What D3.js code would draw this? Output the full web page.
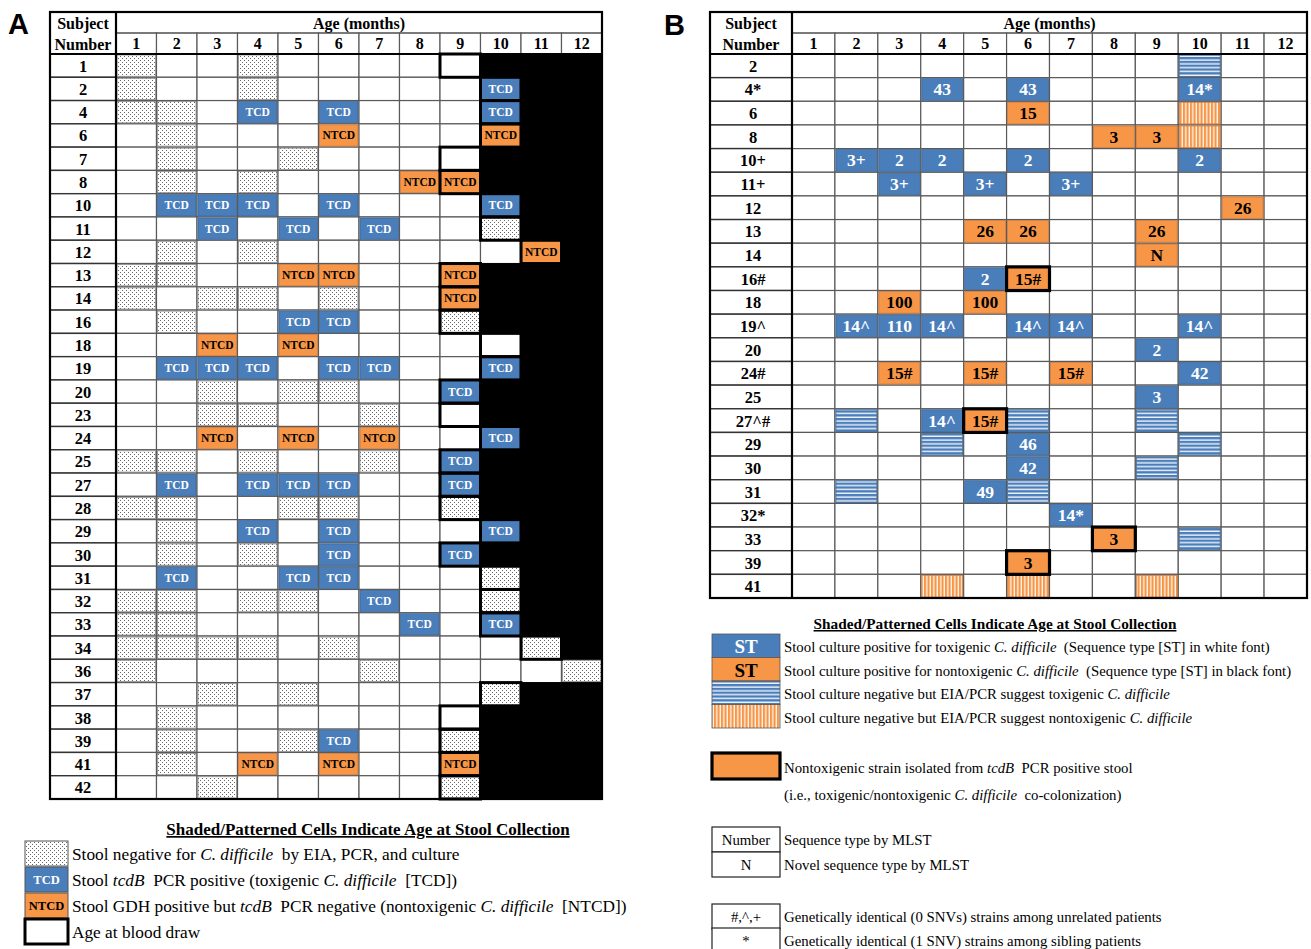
<!DOCTYPE html>
<html>
<head>
<meta charset="utf-8">
<script src="https://cdn.jsdelivr.net/npm/d3@7"></script>
<style>
body { margin: 0; background: #fff; }
svg text { font-family: "Liberation Serif", "Times New Roman", serif; white-space: pre; }
</style>
</head>
<body>
<svg id="fig" width="1311" height="949"></svg>
<script>
const months = [1, 2, 3, 4, 5, 6, 7, 8, 9, 10, 11, 12];

// Panel A
const subjectsA = ["1", "2", "4", "6", "7", "8", "10", "11", "12", "13", "14", "16", "18", "19", "20", "23",
    "24", "25", "27", "28", "29", "30", "31", "32", "33", "34", "36", "37", "38", "39", "41", "42"];
// month of blood draw (everything after it is black)
const bloodMonthA = [9, 10, 10, 10, 9, 9, 10, 10, 11, 9, 9, 9, 10, 10, 9, 9,
    10, 9, 9, 9, 10, 9, 10, 10, 10, 11, 12, 10, 9, 9, 9, 9];
const negativeA = [["1", 1], ["1", 4], ["2", 1], ["2", 4], ["4", 1], ["4", 2], ["6", 2], ["7", 2], ["7", 5],
    ["8", 2], ["8", 4], ["11", 10], ["12", 2], ["12", 4], ["13", 1], ["13", 2], ["14", 1], ["14", 3], ["14", 4],
    ["14", 6], ["16", 2], ["16", 9], ["20", 3], ["20", 5], ["20", 6], ["23", 3], ["23", 4], ["23", 7], ["25", 1],
    ["25", 2], ["25", 4], ["25", 7], ["28", 1], ["28", 2], ["28", 5], ["28", 6], ["28", 9], ["29", 2], ["30", 2],
    ["30", 4], ["31", 10], ["32", 1], ["32", 2], ["32", 4], ["32", 5], ["32", 10], ["33", 1], ["33", 2], ["34", 1],
    ["34", 2], ["34", 3], ["34", 4], ["34", 6], ["34", 11], ["36", 1], ["36", 7], ["36", 12], ["37", 3], ["37", 5],
    ["37", 10], ["38", 2], ["39", 2], ["39", 5], ["39", 9], ["41", 2], ["42", 3], ["42", 9]];
const tcdA = [["2", 10], ["4", 4], ["4", 6], ["4", 10], ["10", 2], ["10", 3], ["10", 4], ["10", 6], ["10", 10],
    ["11", 3], ["11", 5], ["11", 7], ["16", 5], ["16", 6], ["19", 2], ["19", 3], ["19", 4], ["19", 6], ["19", 7],
    ["19", 10], ["20", 9], ["24", 10], ["25", 9], ["27", 2], ["27", 4], ["27", 5], ["27", 6], ["27", 9], ["29", 4],
    ["29", 6], ["29", 10], ["30", 6], ["30", 9], ["31", 2], ["31", 5], ["31", 6], ["32", 7], ["33", 8], ["33", 10],
    ["39", 6]];
const ntcdA = [["6", 6], ["6", 10], ["8", 8], ["8", 9], ["12", 11], ["13", 5], ["13", 6], ["13", 9], ["14", 9],
    ["18", 3], ["18", 5], ["24", 3], ["24", 5], ["24", 7], ["41", 4], ["41", 6], ["41", 9]];

// Panel B
const subjectsB = ["2", "4*", "6", "8", "10+", "11+", "12", "13", "14", "16#", "18", "19^", "20", "24#", "25",
    "27^#", "29", "30", "31", "32*", "33", "39", "41"];
const toxB = [["4*", 4, "43"], ["4*", 6, "43"], ["4*", 10, "14*"], ["10+", 2, "3+"], ["10+", 3, "2"],
    ["10+", 4, "2"], ["10+", 6, "2"], ["10+", 10, "2"], ["11+", 3, "3+"], ["11+", 5, "3+"], ["11+", 7, "3+"],
    ["16#", 5, "2"], ["19^", 2, "14^"], ["19^", 3, "110"], ["19^", 4, "14^"], ["19^", 6, "14^"], ["19^", 7, "14^"],
    ["19^", 10, "14^"], ["20", 9, "2"], ["24#", 10, "42"], ["25", 9, "3"], ["27^#", 4, "14^"], ["29", 6, "46"],
    ["30", 6, "42"], ["31", 5, "49"], ["32*", 7, "14*"]];
const nontoxB = [["6", 6, "15"], ["8", 8, "3"], ["8", 9, "3"], ["12", 11, "26"], ["13", 5, "26"], ["13", 6, "26"],
    ["13", 9, "26"], ["14", 9, "N"], ["16#", 6, "15#"], ["18", 3, "100"], ["18", 5, "100"], ["24#", 3, "15#"],
    ["24#", 5, "15#"], ["24#", 7, "15#"], ["27^#", 5, "15#"], ["33", 8, "3"], ["39", 6, "3"]];
const toxStripeB = [["2", 10], ["27^#", 2], ["27^#", 6], ["27^#", 9], ["29", 4], ["29", 10], ["30", 9],
    ["31", 2], ["31", 6], ["33", 10]];
const nontoxStripeB = [["6", 10], ["8", 10], ["41", 4], ["41", 6], ["41", 9]];
const coColonB = [["16#", 6], ["27^#", 5], ["33", 8], ["39", 6]];

const BLUE = "#4a7ebb";
const ORANGE = "#f79646";
const GRID = "#5a5a5a";

const svg = d3.select("#fig");
const defs = svg.append("defs");

// stipple for negative stool
const dots = defs.append("pattern").attr("id", "dots")
    .attr("patternUnits", "userSpaceOnUse").attr("width", 4).attr("height", 4);
dots.append("rect").attr("width", 4).attr("height", 4).attr("fill", "#fff");
dots.append("rect").attr("x", 0).attr("y", 0).attr("width", 1).attr("height", 1).attr("fill", "#666");
dots.append("rect").attr("x", 2).attr("y", 2).attr("width", 1).attr("height", 1).attr("fill", "#666");

const hstripe = defs.append("pattern").attr("id", "hstripe")
    .attr("patternUnits", "userSpaceOnUse").attr("width", 4).attr("height", 3.8);
hstripe.append("rect").attr("width", 4).attr("height", 3.8).attr("fill", BLUE);
hstripe.append("rect").attr("y", 2.4).attr("width", 4).attr("height", 1.3).attr("fill", "#fff");

const vstripe = defs.append("pattern").attr("id", "vstripe")
    .attr("patternUnits", "userSpaceOnUse").attr("width", 3.5).attr("height", 4);
vstripe.append("rect").attr("width", 3.5).attr("height", 4).attr("fill", ORANGE);
vstripe.append("rect").attr("x", 2.2).attr("width", 1.2).attr("height", 4).attr("fill", "#fff");

const drawTable = (cfg) => {
    const g = svg.append("g");
    const x = d3.scaleBand().domain(months).range([cfg.subjRight, cfg.right]);
    const y = d3.scaleBand().domain(cfg.subjects).range([cfg.bodyTop, cfg.bottom]);
    const last = d => cfg.lastMonth ? cfg.lastMonth[cfg.subjects.indexOf(d)] : 12;

    // body cells
    const cells = [];
    cfg.subjects.forEach(s => months.forEach(m => { if (m <= last(s)) cells.push([s, m]); }));
    g.selectAll("rect.cell").data(cells).enter().append("rect")
        .attr("x", d => x(d[1])).attr("y", d => y(d[0]))
        .attr("width", x.bandwidth()).attr("height", y.bandwidth())
        .attr("fill", "#fff").attr("stroke", GRID).attr("stroke-width", 1.2);

    // subject column
    g.selectAll("rect.subj").data(cfg.subjects).enter().append("rect")
        .attr("x", cfg.left).attr("y", d => y(d))
        .attr("width", cfg.subjRight - cfg.left).attr("height", y.bandwidth())
        .attr("fill", "#fff").attr("stroke", "#333").attr("stroke-width", 1.4);
    g.selectAll("text.subj").data(cfg.subjects).enter().append("text")
        .attr("x", (cfg.left + cfg.subjRight) / 2 + cfg.subjShift)
        .attr("y", d => y(d) + y.bandwidth() / 2 + 6)
        .attr("text-anchor", "middle").attr("font-weight", "bold").attr("font-size", 16.5)
        .text(d => d);

    // black region after follow-up
    if (cfg.lastMonth) {
        g.selectAll("rect.black").data(cfg.subjects.filter(s => last(s) < 12)).enter().append("rect")
            .attr("x", d => x(last(d) + 1)).attr("y", d => y(d) - 0.5)
            .attr("width", d => cfg.right - x(last(d) + 1)).attr("height", y.bandwidth() + 1)
            .attr("fill", "#000");
    }

    const fillCells = (data, fill, stroke) => g.append("g").selectAll("rect").data(data).enter().append("rect")
        .attr("x", d => x(d[1]) + 1).attr("y", d => y(d[0]) + 1)
        .attr("width", x.bandwidth() - 2).attr("height", y.bandwidth() - 2)
        .attr("fill", fill).attr("stroke", stroke).attr("stroke-width", 0.8);
    const cellText = (data, label, color, size, dy) => g.append("g").selectAll("text").data(data).enter().append("text")
        .attr("x", d => x(d[1]) + x.bandwidth() / 2).attr("y", d => y(d[0]) + y.bandwidth() / 2 + dy)
        .attr("text-anchor", "middle").attr("font-weight", "bold").attr("font-size", size)
        .attr("fill", color).text(label);

    cfg.draw(fillCells, cellText, x, y, g);

    // header
    const hTop = cfg.top, hMid = cfg.top + 21, hBot = cfg.bodyTop;
    g.append("rect").attr("x", cfg.subjRight).attr("y", hTop).attr("width", cfg.right - cfg.subjRight)
        .attr("height", hMid - hTop).attr("fill", "#fff");
    g.selectAll("rect.mh").data(months).enter().append("rect")
        .attr("x", d => x(d)).attr("y", hMid).attr("width", x.bandwidth()).attr("height", hBot - hMid)
        .attr("fill", "#fff").attr("stroke", GRID).attr("stroke-width", 1.2);
    g.selectAll("text.mh").data(months).enter().append("text")
        .attr("x", d => x(d) + x.bandwidth() / 2).attr("y", hBot - 5)
        .attr("text-anchor", "middle").attr("font-weight", "bold").attr("font-size", 16)
        .text(d => d);
    g.append("text").attr("x", (cfg.subjRight + cfg.right) / 2).attr("y", hMid - 4)
        .attr("text-anchor", "middle").attr("font-weight", "bold").attr("font-size", 16)
        .text("Age (months)");
    g.append("rect").attr("x", cfg.left).attr("y", hTop).attr("width", cfg.subjRight - cfg.left)
        .attr("height", hBot - hTop).attr("fill", "#fff");
    g.append("text").attr("x", (cfg.left + cfg.subjRight) / 2).attr("y", hTop + 17)
        .attr("text-anchor", "middle").attr("font-weight", "bold").attr("font-size", 16).text("Subject");
    g.append("text").attr("x", (cfg.left + cfg.subjRight) / 2).attr("y", hBot - 4)
        .attr("text-anchor", "middle").attr("font-weight", "bold").attr("font-size", 16).text("Number");

    // frame
    g.append("line").attr("x1", cfg.subjRight).attr("x2", cfg.right).attr("y1", hMid).attr("y2", hMid)
        .attr("stroke", GRID).attr("stroke-width", 1.2);
    g.append("line").attr("x1", cfg.left).attr("x2", cfg.right).attr("y1", hBot).attr("y2", hBot)
        .attr("stroke", "#000").attr("stroke-width", 2.2);
    g.append("line").attr("x1", cfg.subjRight).attr("x2", cfg.subjRight).attr("y1", hTop).attr("y2", cfg.bottom)
        .attr("stroke", "#000").attr("stroke-width", 2.2);
    g.append("rect").attr("x", cfg.left).attr("y", hTop).attr("width", cfg.right - cfg.left)
        .attr("height", cfg.bottom - hTop).attr("fill", "none").attr("stroke", "#000").attr("stroke-width", 2.2);

    cfg.after(x, y, g);
};

// Panel A table
drawTable({
    left: 50, subjRight: 116, right: 602, top: 12, bodyTop: 54, bottom: 799, subjShift: 0,
    subjects: subjectsA, lastMonth: bloodMonthA,
    draw: (fillCells, cellText) => {
        fillCells(negativeA, "url(#dots)", "#888");
        fillCells(tcdA, BLUE, "#3a6699");
        fillCells(ntcdA, ORANGE, "#c8763a");
        cellText(tcdA, "TCD", "#fff", 11.5, 4);
        cellText(ntcdA, "NTCD", "#000", 11.5, 4);
    },
    after: (x, y, g) => {
        const blood = subjectsA.map((s, i) => [s, bloodMonthA[i]]).filter(d => d[1] < 12);
        g.append("g").selectAll("rect").data(blood).enter().append("rect")
            .attr("x", d => x(d[1])).attr("y", d => y(d[0]))
            .attr("width", x.bandwidth()).attr("height", y.bandwidth())
            .attr("fill", "none").attr("stroke", "#000").attr("stroke-width", 3);
    }
});

// Panel B table
drawTable({
    left: 710, subjRight: 792, right: 1307, top: 12, bodyTop: 54, bottom: 598, subjShift: 2,
    subjects: subjectsB, lastMonth: null,
    draw: (fillCells, cellText) => {
        fillCells(toxB, BLUE, "#3a6699");
        fillCells(nontoxB, ORANGE, "#c8763a");
        fillCells(toxStripeB, "url(#hstripe)", "#3a6699");
        fillCells(nontoxStripeB, "url(#vstripe)", "#c8763a");
        cellText(toxB, d => d[2], "#fff", 17.5, 6);
        cellText(nontoxB, d => d[2], "#000", 17.5, 6);
    },
    after: (x, y, g) => {
        g.append("g").selectAll("rect").data(coColonB).enter().append("rect")
            .attr("x", d => x(d[1])).attr("y", d => y(d[0]))
            .attr("width", x.bandwidth()).attr("height", y.bandwidth())
            .attr("fill", "none").attr("stroke", "#000").attr("stroke-width", 3.2);
    }
});

// panel letters
svg.append("text").attr("x", 8).attr("y", 34).attr("font-size", 29).attr("font-weight", "bold")
    .style("font-family", "'Liberation Sans', Arial, sans-serif").text("A");
svg.append("text").attr("x", 664).attr("y", 35).attr("font-size", 29).attr("font-weight", "bold")
    .style("font-family", "'Liberation Sans', Arial, sans-serif").text("B");

// legend text with italic parts, segments prefixed with "_" are italic
const richText = (x, y, parts, size) => {
    const t = svg.append("text").attr("x", x).attr("y", y).attr("font-size", size);
    parts.forEach(p => {
        t.append("tspan").attr("font-style", p.startsWith("_") ? "italic" : null)
            .text(p.startsWith("_") ? p.slice(1) : p);
    });
    return t;
};

// Legend A
svg.append("text").attr("x", 368).attr("y", 835).attr("text-anchor", "middle").attr("font-size", 17)
    .attr("font-weight", "bold").attr("text-decoration", "underline")
    .text("Shaded/Patterned Cells Indicate Age at Stool Collection");

const legendA = [
    { fill: "url(#dots)", label: "", color: "#000", text: ["Stool negative for ", "_C. difficile", "  by EIA, PCR, and culture"] },
    { fill: BLUE, label: "TCD", color: "#fff", text: ["Stool ", "_tcdB", "  PCR positive (toxigenic ", "_C. difficile", "  [TCD])"] },
    { fill: ORANGE, label: "NTCD", color: "#000", text: ["Stool GDH positive but ", "_tcdB", "  PCR negative (nontoxigenic ", "_C. difficile", "  [NTCD])"] },
    { fill: "#fff", label: "", color: "#000", text: ["Age at blood draw"], thick: true }
];
const yLegA = d3.scaleBand().domain(d3.range(legendA.length)).range([841, 945]);
legendA.forEach((d, i) => {
    svg.append("rect").attr("x", 25).attr("y", yLegA(i)).attr("width", 43).attr("height", yLegA.bandwidth() - 1)
        .attr("fill", d.fill).attr("stroke", d.thick ? "#000" : "#555").attr("stroke-width", d.thick ? 3 : 1);
    if (d.label) {
        svg.append("text").attr("x", 46.5).attr("y", yLegA(i) + 17).attr("text-anchor", "middle")
            .attr("font-size", 12.5).attr("font-weight", "bold").attr("fill", d.color).text(d.label);
    }
    richText(72, yLegA(i) + 19, d.text, 17.3);
});

// Legend B
svg.append("text").attr("x", 995).attr("y", 629).attr("text-anchor", "middle").attr("font-size", 15.3)
    .attr("font-weight", "bold").attr("text-decoration", "underline")
    .text("Shaded/Patterned Cells Indicate Age at Stool Collection");

const legendB = [
    { fill: BLUE, label: "ST", color: "#fff", text: ["Stool culture positive for toxigenic ", "_C. difficile", "  (Sequence type [ST] in white font)"] },
    { fill: ORANGE, label: "ST", color: "#000", text: ["Stool culture positive for nontoxigenic ", "_C. difficile", "  (Sequence type [ST] in black font)"] },
    { fill: "url(#hstripe)", label: "", color: "#000", text: ["Stool culture negative but EIA/PCR suggest toxigenic ", "_C. difficile"] },
    { fill: "url(#vstripe)", label: "", color: "#000", text: ["Stool culture negative but EIA/PCR suggest nontoxigenic ", "_C. difficile"] }
];
const yLegB = d3.scaleBand().domain(d3.range(legendB.length)).range([634, 728]);
legendB.forEach((d, i) => {
    svg.append("rect").attr("x", 712).attr("y", yLegB(i)).attr("width", 68).attr("height", yLegB.bandwidth())
        .attr("fill", d.fill).attr("stroke", "#555").attr("stroke-width", 0.8);
    if (d.label) {
        svg.append("text").attr("x", 746).attr("y", yLegB(i) + 19).attr("text-anchor", "middle")
            .attr("font-size", 19).attr("font-weight", "bold").attr("fill", d.color).text(d.label);
    }
    richText(784, yLegB(i) + 18, d.text, 14.8);
});

svg.append("rect").attr("x", 712).attr("y", 753).attr("width", 68).attr("height", 26)
    .attr("fill", ORANGE).attr("stroke", "#000").attr("stroke-width", 3.2);
richText(784, 773, ["Nontoxigenic strain isolated from ", "_tcdB", "  PCR positive stool"], 14.8);
richText(784, 800, ["(i.e., toxigenic/nontoxigenic ", "_C. difficile", "  co-colonization)"], 14.8);

const boxRows = [
    { key: "Number", text: "Sequence type by MLST", top: 827 },
    { key: "N", text: "Novel sequence type by MLST", top: 852 },
    { key: "#,^,+", text: "Genetically identical (0 SNVs) strains among unrelated patients", top: 904 },
    { key: "*", text: "Genetically identical (1 SNV) strains among sibling patients", top: 928 }
];
boxRows.forEach(d => {
    svg.append("rect").attr("x", 712).attr("y", d.top).attr("width", 68).attr("height", d.key === "*" ? 30 : 25)
        .attr("fill", "#fff").attr("stroke", "#222").attr("stroke-width", 1.2);
    svg.append("text").attr("x", 746).attr("y", d.top + 18).attr("text-anchor", "middle")
        .attr("font-size", 14.8).text(d.key);
    richText(784, d.top + 18, [d.text], 14.8);
});
</script>
</body>
</html>
